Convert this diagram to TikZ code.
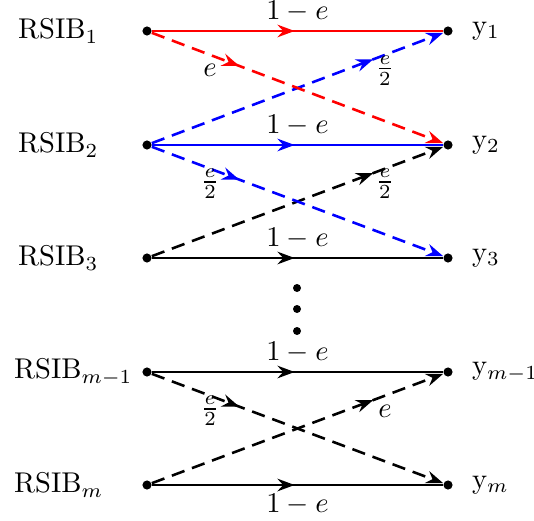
\documentclass[tikz,border=0pt]{standalone}
\usepackage{amsmath}
\usetikzlibrary{arrows.meta,decorations.markings}
\begin{document}
\begin{tikzpicture}[x=0.35pt,y=-0.35pt,>={Stealth[length=6pt,width=4.4pt,inset=2pt]}]
  \tikzset{dot node/.style={circle,fill=black,minimum size=3.2pt,inner sep=0pt},
    mid arrow/.style={postaction={decorate},decoration={markings,mark=at position #1 with {\arrow{>}}}},
    straight/.style={line width=0.9pt,mid arrow=0.49},
    cross/.style={line width=0.9pt,dash pattern=on 4.7pt off 2.8pt,->},
    gain/.style={black,inner sep=2.6pt},
    edge label/.style={black,yshift=-5.4pt}}
  \useasboundingbox (0,0) rectangle (534,520);
  % inputs
  \node[dot node] (in1) at (147,31) {};
  \node[dot node] (in2) at (147,145) {};
  \node[dot node] (in3) at (147,258) {};
  \node[dot node] (in4) at (147,372) {};
  \node[dot node] (in5) at (147,485) {};
  \node[anchor=west] (in1 lbl) at (8,31) {RSIB$_1$};
  \node[anchor=west] (in2 lbl) at (8,145) {RSIB$_2$};
  \node[anchor=west] (in3 lbl) at (8,258) {RSIB$_3$};
  \node[anchor=west] (in4 lbl) at (4,372) {RSIB$_{m-1}$};
  \node[anchor=west] (in5 lbl) at (4,485) {RSIB$_m$};
  % outputs
  \node[dot node] (out1) at (448,31) {};
  \node[dot node] (out2) at (448,145) {};
  \node[dot node] (out3) at (448,258) {};
  \node[dot node] (out4) at (448,372) {};
  \node[dot node] (out5) at (448,485) {};
  \node[anchor=west] (out1 lbl) at (462,31) {y$_1$};
  \node[anchor=west] (out2 lbl) at (462,145) {y$_2$};
  \node[anchor=west] (out3 lbl) at (462,258) {y$_3$};
  \node[anchor=west] (out4 lbl) at (462,372) {y$_{m-1}$};
  \node[anchor=west] (out5 lbl) at (462,485) {y$_m$};
  % straight links
  \draw[red,straight] (in1) -- node[above,gain] {$1-e$} (out1);
  \draw[blue,straight] (in2) -- node[above,gain] {$1-e$} (out2);
  \draw[straight] (in3) -- node[above,gain] {$1-e$} (out3);
  \draw[straight] (in4) -- node[above,gain] {$1-e$} (out4);
  \draw[straight] (in5) -- node[below,gain] {$1-e$} (out5);
  % crossing links
  \draw[black,cross,mid arrow=0.76] (in3) -- node[pos=0.8,edge label] {$\frac{e}{2}$} (out2);
  \draw[blue,cross,mid arrow=0.76] (in2) -- node[pos=0.8,edge label] {$\frac{e}{2}$} (out1);
  \draw[blue,cross,mid arrow=0.3] (in2) -- node[pos=0.2,edge label] {$\frac{e}{2}$} (out3);
  \draw[red,cross,mid arrow=0.3] (in1) -- node[pos=0.2,edge label] {$e$} (out2);
  \draw[cross,mid arrow=0.3] (in4) -- node[pos=0.2,edge label] {$\frac{e}{2}$} (out5);
  \draw[cross,mid arrow=0.76] (in5) -- node[pos=0.8,edge label] {$e$} (out4);
  % dots
  \foreach \y in {288,309,331}
    \fill (297,\y) circle (1.4pt);
\end{tikzpicture}
\end{document}
